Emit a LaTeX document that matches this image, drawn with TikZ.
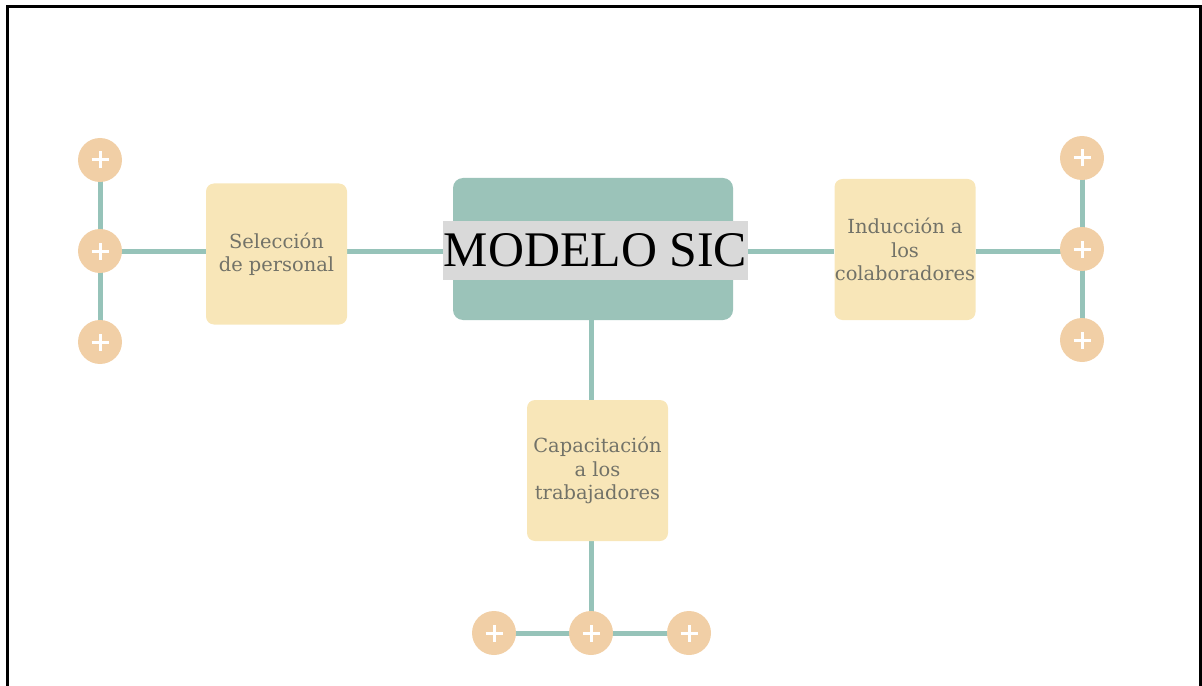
\documentclass[tikz,border=0pt]{standalone}
\usepackage{fontspec}
\setmainfont{DejaVu Serif}
\newfontfamily\titlefont{Liberation Serif}
\usetikzlibrary{backgrounds}
\definecolor{linkteal}{HTML}{96C3B9}
\definecolor{hubteal}{HTML}{9BC3B9}
\definecolor{topicyellow}{HTML}{F8E6B8}
\definecolor{budpeach}{HTML}{F1CFA6}
\definecolor{topictext}{HTML}{727268}
\definecolor{labelgray}{HTML}{D9D9D9}
\tikzset{
  x=1bp, y=-1bp,
  link/.style={draw=linkteal, line width=5bp},
  topic/.style={fill=topicyellow, rounded corners=8bp, minimum width=141bp,
    minimum height=141bp, inner sep=0pt, align=center,
    text=topictext, font=\fontsize{19.5}{23.5}\selectfont},
  hub/.style={fill=hubteal, rounded corners=10bp, minimum width=280bp,
    minimum height=142bp, inner sep=0pt},
  hublabel/.style={fill=labelgray, minimum width=305bp, minimum height=59bp,
    inner sep=0pt, font=\titlefont\fontsize{50}{50}\selectfont, text=black},
  bud/.style={circle, fill=budpeach, minimum size=44bp, inner sep=0pt,
    path picture={
      \draw[white, line width=3bp]
        ([xshift=-8.5bp]path picture bounding box.center) --
        ([xshift=8.5bp]path picture bounding box.center)
        ([yshift=-8.5bp]path picture bounding box.center) --
        ([yshift=8.5bp]path picture bounding box.center);}},
  frameline/.style={draw=black, line width=3bp}
}
\begin{document}
\begin{tikzpicture}
\useasboundingbox (0,0) rectangle (1202,686);
\draw[frameline] (7,686) -- (7,7) -- (1200,7) -- (1200,686);

% central hub and its title
\node[hub] (hub) at (593,249) {};
\node[hublabel] (title) at (595.5,250.5) {MODELO SIC};

% topics
\node[topic] (sel) at (276.5,254) {Selección\\de personal};
\node[topic] (ind) at (905,249.5) {Inducción a\\los\\colaboradores};
\node[topic] (cap) at (597.5,470.5) {Capacitación\\a los\\trabajadores};

% end buds
\node[bud] (l1) at (100,160) {};
\node[bud] (l2) at (100,251) {};
\node[bud] (l3) at (100,342) {};
\node[bud] (r1) at (1082,158) {};
\node[bud] (r2) at (1082,249) {};
\node[bud] (r3) at (1082,340) {};
\node[bud] (b1) at (494,633) {};
\node[bud] (b2) at (591,633) {};
\node[bud] (b3) at (689,633) {};

\begin{scope}[on background layer]
  \draw[link] (l2.center) -- (sel.west |- l2.center);
  \draw[link] (sel.east |- l2.center) -- (title.west |- l2.center);
  \draw[link] (title.east |- l2.center) -- (ind.west |- l2.center);
  \draw[link] (ind.east |- l2.center) -- (r2.center |- l2.center);
  \draw[link] (l1.center) -- (l3.center);
  \draw[link] (r1.center) -- (r3.center);
  \draw[link] (hub.south -| b2.center) -- (cap.north -| b2.center);
  \draw[link] (cap.south -| b2.center) -- (b2.center);
  \draw[link] (b1.center) -- (b3.center);
\end{scope}
\end{tikzpicture}
\end{document}
